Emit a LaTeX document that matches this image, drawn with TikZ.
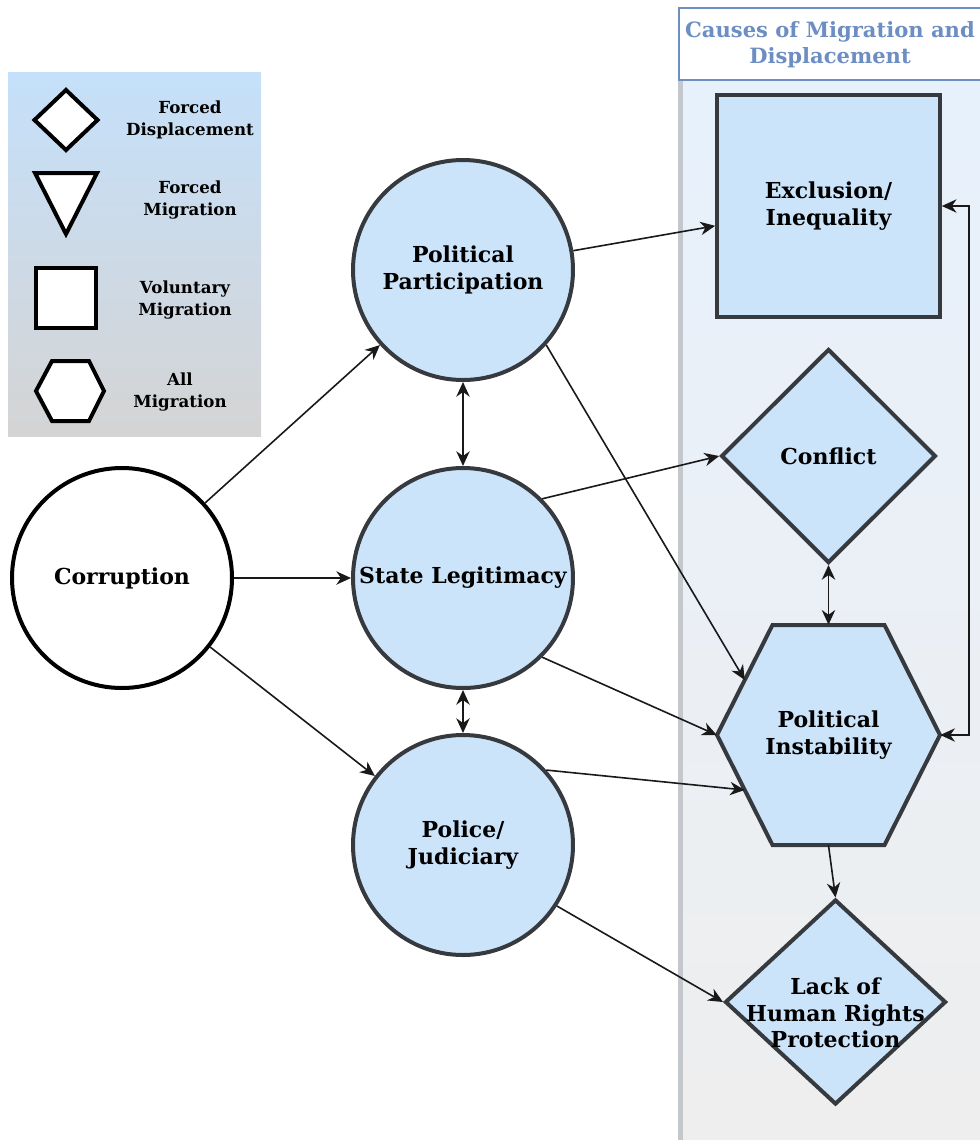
\documentclass[tikz,border=0pt]{standalone}
\usepackage{fontspec}
\setmainfont{DejaVu Serif}
\usetikzlibrary{shapes.geometric,arrows.meta,calc}
\definecolor{nodefill}{RGB}{204,228,250}
\definecolor{nodeline}{RGB}{54,57,62}
\definecolor{headblue}{RGB}{108,142,194}
\definecolor{panelTop}{RGB}{231,241,252}
\definecolor{panelBot}{RGB}{238,238,238}
\definecolor{legTop}{RGB}{197,224,250}
\definecolor{legBot}{RGB}{212,212,212}
\definecolor{bandgray}{RGB}{196,200,204}
\definecolor{arrowcol}{RGB}{25,25,25}

\begin{document}
\begin{tikzpicture}[x=0.75pt,y=-0.75pt,
  >={Stealth[length=11pt,width=10pt,inset=3.5pt]},
  txt/.style={font=\bfseries\fontsize{16.5}{20}\selectfont, align=center, text=black},
  legtxt/.style={font=\bfseries\fontsize{12.5}{16.5}\selectfont, align=center},
  headtxt/.style={font=\bfseries\fontsize{15.8}{19.5}\selectfont, align=center, text=headblue},
  causebox/.style={draw=nodeline, line width=3pt, fill=nodefill, line join=miter},
  midnode/.style={circle, causebox, minimum size=165pt, inner sep=0pt, txt},
  legshape/.style={draw=black, line width=3pt, fill=white, line join=miter},
  conn/.style={draw=arrowcol, line width=1.2pt}
]
\useasboundingbox (0,0) rectangle (980,1140);
\clip (0,0) rectangle (980,1140);

% right-hand panel with its heading
\shade[top color=panelTop, bottom color=panelBot] (679,80) rectangle (980,1140);
\fill[bandgray] (678,80) rectangle (683,1140);
\draw[draw=headblue, line width=1.2pt, fill=white] (679,8) rectangle (995,80);
\node[headtxt] (head) at (830,45) {Causes of Migration and\\Displacement};

% legend
\shade[top color=legTop, bottom color=legBot] (8,72) rectangle (261,436);
\draw[legshape] (66,90) -- (97.5,120) -- (66,150) -- (34.5,120) -- cycle;
\draw[legshape] (35,173) -- (97,173) -- (66,234) -- cycle;
\draw[legshape] (36,268) rectangle (96,328);
\draw[legshape] (36,391) -- (52,361) -- (89,361) -- (104,391) -- (89,421) -- (52,421) -- cycle;
\node[legtxt] (lg1) at (190,120) {Forced\\Displacement};
\node[legtxt] (lg2) at (190,200) {Forced\\Migration};
\node[legtxt] (lg3) at (185,300) {Voluntary\\Migration};
\node[legtxt] (lg4) at (180,392) {All\\Migration};

% main nodes
\node[circle, draw=black, line width=3pt, fill=white, minimum size=165pt, inner sep=0pt, txt] (cor) at (122,578) {Corruption};
\node[midnode] (pp) at (463,270) {Political\\Participation};
\node[midnode] (sl) at (463,578) {State Legitimacy};
\node[midnode] (pj) at (463,845) {Police/\\Judiciary};

\node[rectangle, causebox, minimum width=167pt, minimum height=166.5pt, inner sep=0pt, txt] (ex) at (828.5,206) {Exclusion/\\Inequality};
\node[diamond, causebox, minimum width=161pt, minimum height=160.5pt, inner sep=0pt, txt] (conf) at (828.5,456) {Conflict};

% hexagon for political instability
\coordinate (pic) at (828.5,735);
\draw[causebox] ($(pic)+(-111.5,0)$) -- ($(pic)+(-56,-110)$) -- ($(pic)+(56,-110)$)
  -- ($(pic)+(111.5,0)$) -- ($(pic)+(56,110)$) -- ($(pic)+(-56,110)$) -- cycle;
\node[txt, minimum width=167.25pt, minimum height=165pt, inner sep=0pt] (pi) at (pic) {Political\\Instability};
\coordinate (piul) at ($(pic)+(-83.75,-55)$);
\coordinate (pill) at ($(pic)+(-83.75,55)$);

\node[diamond, causebox, minimum width=165.75pt, minimum height=153.75pt, inner sep=0pt] (hr) at (835.5,1002) {};
\node[txt] (hrtxt) at (835.5,1013) {Lack of\\Human Rights\\Protection};

% connectors
\draw[conn, ->] (cor) -- (pp);
\draw[conn, ->] (cor) -- (sl);
\draw[conn, ->] (cor) -- (pj);
\draw[conn, <->] (pp) -- (sl);
\draw[conn, <->] (sl) -- (pj);
\draw[conn, ->] (pp) -- (ex);
\draw[conn, ->] (pp.-42) -- (piul);
\draw[conn, ->] (sl.45) -- (conf.west);
\draw[conn, ->] (sl.-45) -- (pi.west);
\draw[conn, ->] (pj.42) -- (pill);
\draw[conn, ->] (pj.-33) -- (hr.west);
\draw[conn, <->] (conf.south) -- (pi.north);
\draw[conn, ->] (pi.south) -- (hr.north);
\draw[conn, <->] (ex.east) -- ++(27,0) |- (pi.east);
\end{tikzpicture}
\end{document}
